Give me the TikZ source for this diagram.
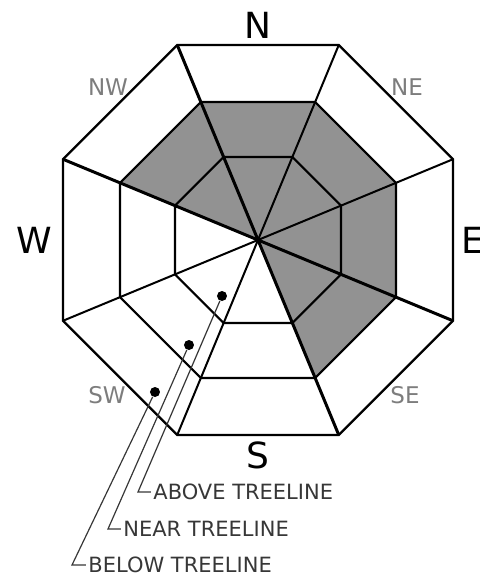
\documentclass[tikz,border=0pt]{standalone}
\usepackage{fontspec}
\setmainfont{DejaVu Sans}
\usepackage{xcolor}
\usetikzlibrary{positioning, calc}
\definecolor{zonegray}{RGB}{146,146,146}
\definecolor{labelgray}{RGB}{125,125,125}
\definecolor{leadgray}{RGB}{55,55,55}

\begin{document}
\begin{tikzpicture}[x=0.5pt, y=0.5pt,
    octline/.style={line width=1.1pt, line join=miter},
    heavyray/.style={line width=1.5pt},
    lightray/.style={line width=1pt},
    compass/.style={inner sep=0pt, font=\fontsize{18}{18}\selectfont},
    subcompass/.style={inner sep=0pt, text=labelgray, font=\fontsize{11.5}{11.5}\selectfont},
    zonedot/.style={circle, fill, inner sep=0pt, minimum size=5pt},
    zonelbl/.style={anchor=west, inner sep=1pt, text=leadgray, font=\fontsize{10.5}{10.5}\selectfont},
    leader/.style={leadgray, line width=0.6pt}]
    \useasboundingbox (0,0) rectangle (480,575);
    \begin{scope}[shift={(258,335)}]
        % shaded zones
        \fill[zonegray] (0,0) \foreach \a in {157.5,112.5,...,-67.5} {-- (\a:149.4)} -- cycle;
        % three bands
        \foreach \r in {211.1,149.4,89.8}
            \draw[octline] (22.5:\r) \foreach \a in {67.5,112.5,...,337.5} {-- (\a:\r)} -- cycle;
        % aspects
        \foreach \a in {67.5,22.5,-112.5,-157.5} \draw[lightray] (0,0) -- (\a:211.1);
        \foreach \a in {112.5,157.5,-22.5,-67.5} \draw[heavyray] (0,0) -- (\a:211.1);
    \end{scope}
    \node[compass] (north) at (258,550) {N};
    \node[compass] (south) at (258,120) {S};
    \node[compass] (west) at (34,335) {W};
    \node[compass, anchor=west] (east) at (461,335) {E};
    \node[subcompass] (nw) at (108,488) {NW};
    \node[subcompass] (ne) at (407,488) {NE};
    \node[subcompass] (sw) at (107,180) {SW};
    \node[subcompass] (se) at (405,180) {SE};
    % elevation markers
    \node[zonedot] (aboveDot) at (222,279) {};
    \node[zonedot] (nearDot) at (189,230) {};
    \node[zonedot] (belowDot) at (155,183) {};
    \node[zonelbl] (aboveLbl) at (151,83) {ABOVE TREELINE};
    \node[zonelbl] (nearLbl) at (121,46) {NEAR TREELINE};
    \node[zonelbl] (belowLbl) at (86,10) {BELOW TREELINE};
    \coordinate (aboveBend) at (138,83);
    \coordinate (nearBend) at (108,46);
    \coordinate (belowBend) at (72,10);
    \draw[leader] (aboveDot) -- (aboveBend) -- (aboveLbl.west);
    \draw[leader] (nearDot) -- (nearBend) -- (nearLbl.west);
    \draw[leader] (belowDot) -- (belowBend) -- (belowLbl.west);
\end{tikzpicture}
\end{document}
